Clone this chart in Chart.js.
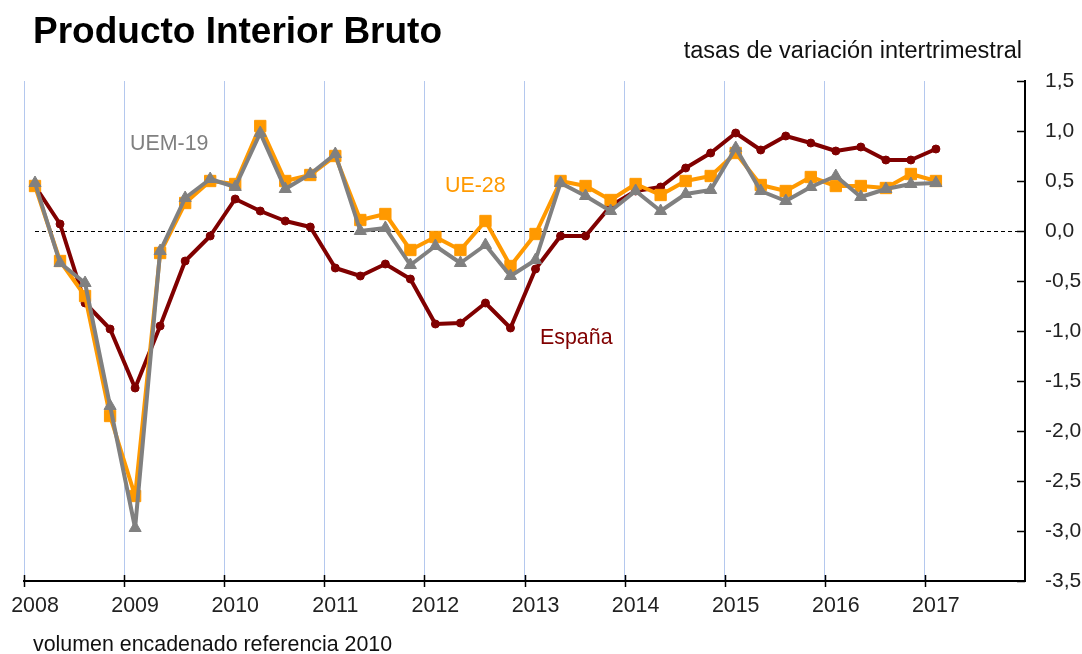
<!DOCTYPE html>
<html lang="es">
<head>
<meta charset="utf-8">
<title>Producto Interior Bruto</title>
<script src="https://cdn.jsdelivr.net/npm/chart.js@4.4.1/dist/chart.umd.min.js"></script>
<style>
  html, body { margin: 0; padding: 0; background: #fff; }
</style>
</head>
<body>
<canvas id="pib" width="1082" height="654"></canvas>
<script>
// trimestres 2008T1 - 2017T1
const trimestres = [
  '2008T1','2008T2','2008T3','2008T4','2009T1','2009T2','2009T3','2009T4',
  '2010T1','2010T2','2010T3','2010T4','2011T1','2011T2','2011T3','2011T4',
  '2012T1','2012T2','2012T3','2012T4','2013T1','2013T2','2013T3','2013T4',
  '2014T1','2014T2','2014T3','2014T4','2015T1','2015T2','2015T3','2015T4',
  '2016T1','2016T2','2016T3','2016T4','2017T1'
];

// tasas de variación intertrimestral (%)
const espana = [0.45, 0.07, -0.72, -0.98, -1.57, -0.95, -0.30, -0.05,
  0.32, 0.20, 0.10, 0.04, -0.37, -0.45, -0.33, -0.48,
  -0.93, -0.92, -0.72, -0.97, -0.38, -0.05, -0.05, 0.25,
  0.40, 0.44, 0.63, 0.78, 0.98, 0.81, 0.95, 0.88,
  0.80, 0.84, 0.71, 0.71, 0.82];
const ue28 = [0.45, -0.30, -0.65, -1.85, -2.65, -0.22, 0.28, 0.50,
  0.47, 1.05, 0.50, 0.56, 0.75, 0.11, 0.17, -0.19,
  -0.06, -0.19, 0.10, -0.35, -0.03, 0.50, 0.45, 0.31,
  0.47, 0.36, 0.50, 0.55, 0.78, 0.46, 0.40, 0.54,
  0.45, 0.45, 0.43, 0.57, 0.50];
const uem19 = [0.48, -0.32, -0.52, -1.75, -2.97, -0.20, 0.33, 0.52,
  0.44, 0.98, 0.42, 0.57, 0.77, 0.00, 0.03, -0.34,
  -0.15, -0.32, -0.14, -0.45, -0.29, 0.48, 0.35, 0.20,
  0.40, 0.20, 0.37, 0.41, 0.83, 0.40, 0.30, 0.44,
  0.55, 0.34, 0.42, 0.47, 0.48];

const anios = [2008, 2009, 2010, 2011, 2012, 2013, 2014, 2015, 2016, 2017];
const ticksY = [1.5, 1.0, 0.5, 0.0, -0.5, -1.0, -1.5, -2.0, -2.5, -3.0, -3.5];

const fuente = '"Liberation Sans", Arial, sans-serif';

// punto a mediados del segundo mes del trimestre
function posicion(t) {
  let a = parseInt(t.slice(0, 4));
  let q = parseInt(t.slice(5));
  return a + 0.11 + (q - 1) * 0.25;
}

function serie(valores) {
  return valores.map((v, i) => ({ x: posicion(trimestres[i]), y: v }));
}

// linea del cero, marcas de ejes y textos
const extras = {
  id: 'extras',
  beforeDatasetsDraw(chart) {
    const { ctx, chartArea, scales: { x, y } } = chart;
    let y0 = Math.round(y.getPixelForValue(0)) + 0.5;
    ctx.save();
    ctx.strokeStyle = '#000';
    ctx.lineWidth = 1;
    ctx.setLineDash([4, 3]);
    ctx.beginPath();
    ctx.moveTo(x.getPixelForValue(posicion(trimestres[0])), y0);
    ctx.lineTo(chartArea.right, y0);
    ctx.stroke();
    ctx.restore();
  },
  afterDraw(chart) {
    const { ctx, chartArea, scales: { x, y } } = chart;
    ctx.save();
    ctx.strokeStyle = '#000';
    ctx.lineWidth = 1.5;
    ctx.beginPath();
    anios.forEach(a => {
      let px = Math.round(x.getPixelForValue(a)) + 0.5;
      ctx.moveTo(px, chartArea.bottom - 6);
      ctx.lineTo(px, chartArea.bottom + 6);
    });
    ticksY.forEach(v => {
      let py = Math.round(y.getPixelForValue(v)) + 0.5;
      ctx.moveTo(chartArea.right - 8, py);
      ctx.lineTo(chartArea.right, py);
    });
    ctx.stroke();

    ctx.textBaseline = 'alphabetic';
    ctx.fillStyle = '#000';
    ctx.font = 'bold 37px ' + fuente;
    ctx.textAlign = 'left';
    ctx.fillText('Producto Interior Bruto', 33, 43);

    ctx.font = '23.5px ' + fuente;
    ctx.fillStyle = '#111';
    ctx.textAlign = 'right';
    ctx.fillText('tasas de variación intertrimestral', 1022, 58);

    ctx.textAlign = 'left';
    ctx.font = '21.4px ' + fuente;
    ctx.fillText('volumen encadenado referencia 2010', 33, 651);

    ctx.fillStyle = '#808080';
    ctx.fillText('UEM-19', 130, 150);
    ctx.fillStyle = '#FF9900';
    ctx.fillText('UE-28', 445, 192);
    ctx.fillStyle = '#800000';
    ctx.fillText('España', 540, 344);
    ctx.restore();
  }
};

let miGrafico = new Chart(document.getElementById('pib').getContext('2d'), {
  type: 'line',
  data: {
    datasets: [{
      label: 'UEM-19',
      data: serie(uem19),
      borderColor: '#808080',
      backgroundColor: '#808080',
      borderWidth: 4,
      borderJoinStyle: 'round',
      pointStyle: 'triangle',
      pointRadius: 7,
      pointBorderWidth: 1,
      order: 0
    }, {
      label: 'UE-28',
      data: serie(ue28),
      borderColor: '#FF9900',
      backgroundColor: '#FF9900',
      borderWidth: 4,
      borderJoinStyle: 'round',
      pointStyle: 'rect',
      pointRadius: 8,
      pointBorderWidth: 1,
      order: 1
    }, {
      label: 'España',
      data: serie(espana),
      borderColor: '#800000',
      backgroundColor: '#800000',
      borderWidth: 4,
      borderJoinStyle: 'round',
      pointStyle: 'circle',
      pointRadius: 4,
      pointBorderWidth: 1,
      order: 2
    }]
  },
  options: {
    responsive: false,
    animation: false,
    devicePixelRatio: 1,
    layout: { padding: { left: 24, top: 81, right: 0, bottom: 33 } },
    plugins: {
      legend: { display: false },
      tooltip: { enabled: false }
    },
    elements: { line: { tension: 0 } },
    scales: {
      x: {
        type: 'linear',
        min: 2008,
        max: 2018,
        afterBuildTicks: s => { s.ticks = anios.concat([2018]).map(v => ({ value: v })); },
        afterFit: s => { s.height = 40; s.paddingLeft = 0; s.paddingRight = 0; },
        grid: {
          color: c => (c.tick && c.tick.value < 2018) ? '#b4c8ee' : 'rgba(0,0,0,0)',
          lineWidth: 1,
          drawTicks: false
        },
        border: { color: '#000', width: 2 },
        ticks: {
          callback: v => v < 2018 ? String(v) : '',
          font: { family: fuente, size: 21.4 },
          color: '#222',
          padding: 12,
          labelOffset: 11,
          maxRotation: 0,
          autoSkip: false
        }
      },
      y: {
        position: 'right',
        min: -3.5,
        max: 1.5,
        afterBuildTicks: s => { s.ticks = ticksY.map(v => ({ value: v })); },
        afterFit: s => { s.width = 57; s.paddingTop = 0; s.paddingBottom = 0; },
        grid: { drawOnChartArea: false, drawTicks: false },
        border: { color: '#000', width: 2 },
        ticks: {
          callback: v => v.toFixed(1).replace('.', ','),
          font: { family: fuente, size: 21 },
          color: '#222',
          padding: 20
        }
      }
    }
  },
  plugins: [extras]
});
</script>
</body>
</html>
